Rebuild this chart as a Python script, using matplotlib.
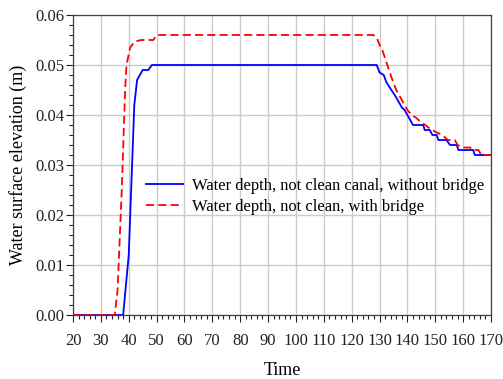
import matplotlib
matplotlib.use('Agg')
import matplotlib.pyplot as plt
from matplotlib.ticker import MultipleLocator, FormatStrFormatter

plt.rcParams['font.family'] = ['Liberation Serif', 'DejaVu Serif']

# water depth, not clean canal, without bridge
t_no_bridge = [20, 38, 40, 42, 43, 45, 47, 48.3, 129, 130, 131.5, 132.5, 136, 138,
               139, 140, 142, 145.7, 146.2, 148, 149, 150.5, 151.1, 154, 155.3,
               157.7, 158.3, 163.6, 164.2, 170]
h_no_bridge = [0.0, 0.0, 0.012, 0.042, 0.047, 0.049, 0.049, 0.050, 0.050, 0.0485,
               0.048, 0.0465, 0.0435, 0.0415, 0.041, 0.040, 0.038, 0.038, 0.037,
               0.037, 0.036, 0.036, 0.035, 0.035, 0.034, 0.034, 0.033, 0.033,
               0.032, 0.032]

# water depth, not clean, with bridge
t_bridge = [20, 35, 36, 37.5, 38.7, 39.2, 40.5, 42.2, 44.5, 48.8, 50, 127.8, 129,
            130, 131, 132.5, 134.3, 136, 138.5, 140, 141.5, 143, 144, 145, 146.5,
            147.5, 149, 150.5, 152.5, 153.5, 154.5, 157, 158, 160, 162.5, 163.5,
            165.5, 166.5, 170]
h_bridge = [0.0, 0.0, 0.005, 0.025, 0.045, 0.050, 0.0535, 0.0547, 0.055, 0.055,
            0.056, 0.056, 0.0555, 0.054, 0.053, 0.0505, 0.0475, 0.045, 0.0425,
            0.041, 0.040, 0.0395, 0.039, 0.0385, 0.038, 0.0375, 0.037, 0.0365,
            0.036, 0.0355, 0.035, 0.035, 0.034, 0.0335, 0.0335, 0.033, 0.033,
            0.032, 0.032]

labels = ['Water depth, not clean canal, without bridge',
          'Water depth, not clean, with bridge']

fig = plt.figure(figsize=(5.03, 3.79), dpi=100)
ax = fig.add_axes([73 / 503, 1 - 315 / 379, 418 / 503, 300 / 379])

ax.plot(t_no_bridge, h_no_bridge, color='#0000ff', linewidth=1.3, label=labels[0])
ax.plot(t_bridge, h_bridge, color='#ff0000', linewidth=1.3, dashes=(4.5, 2.3),
        label=labels[1])

ax.set_xlim(20, 170)
ax.set_ylim(0, 0.06)
ax.xaxis.set_major_locator(MultipleLocator(10))
ax.xaxis.set_minor_locator(MultipleLocator(2))
ax.yaxis.set_major_locator(MultipleLocator(0.01))
ax.yaxis.set_minor_locator(MultipleLocator(0.002))
ax.yaxis.set_major_formatter(FormatStrFormatter('%.2f'))

ax.tick_params(which='major', direction='out', length=5, width=0.8,
               labelsize=12, pad=8, colors='#222222')
ax.tick_params(axis='y', which='major', pad=1)
ax.tick_params(which='minor', direction='out', length=3, width=0.8, colors='#222222')
ax.tick_params(top=False, right=False, which='both')

ax.grid(True, which='major', color='#cccccc', linewidth=1.0)
ax.set_axisbelow(True)
for s in ax.spines.values():
    s.set_color('#444444')
    s.set_linewidth(0.9)

ax.set_xlabel('Time', fontsize=13, labelpad=9)
ax.set_ylabel('Water surface elevation (m)', fontsize=13, labelpad=6)

ax.legend(loc='upper left', bbox_to_anchor=(131 / 503, 1 - 163 / 379),
          bbox_transform=fig.transFigure, frameon=False, fontsize=11.9,
          handlelength=2.25, handletextpad=0.55, labelspacing=0.28)

fig.savefig('out.png', dpi=100)
